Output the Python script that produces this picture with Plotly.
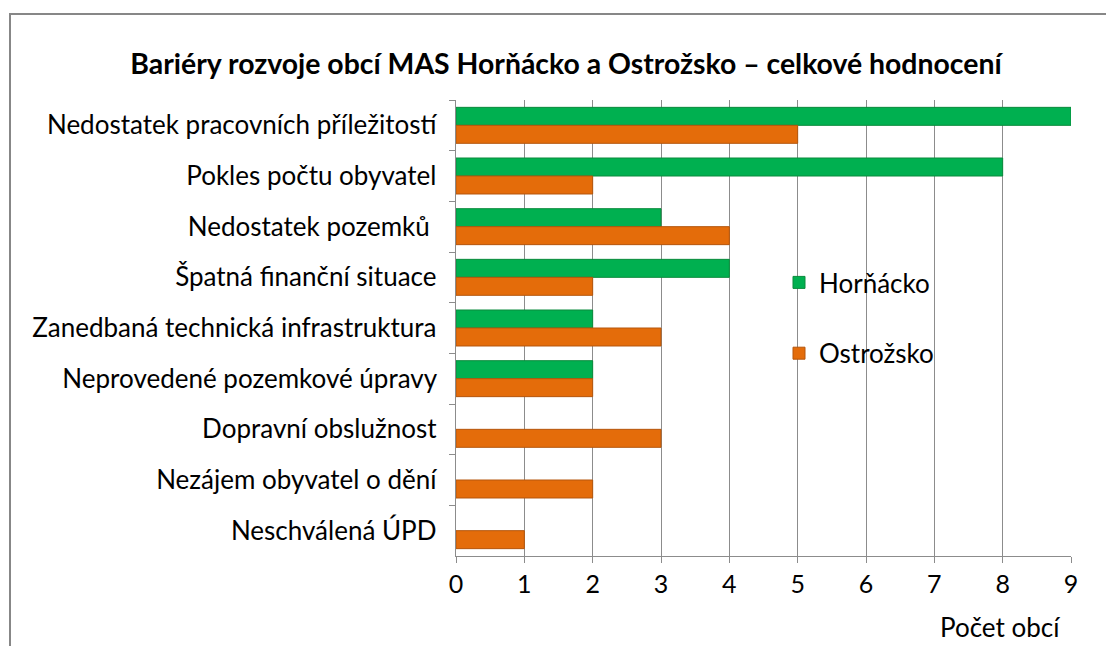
import plotly.graph_objects as go

categories = [
    "Nedostatek pracovních příležitostí",
    "Pokles počtu obyvatel",
    "Nedostatek pozemků ",
    "Špatná finanční situace",
    "Zanedbaná technická infrastruktura",
    "Neprovedené pozemkové úpravy",
    "Dopravní obslužnost",
    "Nezájem obyvatel o dění",
    "Neschválená ÚPD",
]
hornacko = [9, 8, 3, 4, 2, 2, 0, 0, 0]
ostrozsko = [5, 2, 4, 2, 3, 2, 3, 2, 1]
x_ticks = [0, 1, 2, 3, 4, 5, 6, 7, 8, 9]

FONT = "Lato"
OFF = 8  # page body margin offset
W, H = 1114 - OFF, 646 - OFF
L, R, T, B = 456 - OFF, 1071 - OFF, 100 - OFF, 556 - OFF


def px_x(p):
    return (p - OFF - L) / (R - L)


def px_y(p):
    return (B - (p - OFF)) / (B - T)


def nz(vals):
    return [v if v else None for v in vals]


fig = go.Figure()
fig.add_trace(go.Bar(
    y=categories, x=nz(hornacko), orientation="h", name="Horňácko",
    legendgroup="h",
    marker=dict(color="#00B050", line=dict(color="#0A8B3C", width=1)),
))
fig.add_trace(go.Bar(
    y=categories, x=nz(ostrozsko), orientation="h", name="Ostrožsko",
    legendgroup="o",
    marker=dict(color="#E46C0A", line=dict(color="#B5560C", width=1)),
))

fig.update_layout(
    width=W, height=H,
    margin=dict(l=L, r=W - R, t=T, b=H - B),
    paper_bgcolor="white", plot_bgcolor="white",
    barmode="group", bargap=0.29, bargroupgap=0,
    font=dict(family=FONT, size=26, color="#000000"),
    title=dict(
        text="<b>Bariéry rozvoje obcí MAS Horňácko a Ostrožsko – celkové hodnocení</b>",
        x=(566 - OFF) / W, xanchor="center", y=1 - (64 - OFF) / H, yanchor="middle",
        font=dict(family=FONT, size=28.4, color="#000000"),
    ),
    legend=dict(
        x=px_x(779), xanchor="left", y=px_y(259), yanchor="top",
        traceorder="grouped", tracegroupgap=34,
        font=dict(family=FONT, size=26, color="#000000"),
        bgcolor="rgba(0,0,0,0)", itemwidth=30,
    ),
    xaxis=dict(
        range=[0, 9], tickvals=x_ticks, showgrid=True,
        gridcolor="#8C8C8C", gridwidth=1,
        showline=True, linecolor="#8C8C8C", linewidth=1,
        ticks="outside", ticklen=6, tickcolor="#8C8C8C",
        tickfont=dict(family=FONT, size=25), zeroline=False,
    ),
    yaxis=dict(
        autorange="reversed", showline=True, linecolor="#8C8C8C", linewidth=1,
        ticks="outside", ticklen=6, tickcolor="#8C8C8C", tickson="boundaries",
        showgrid=False, ticksuffix="  ",
        tickfont=dict(family=FONT, size=26),
    ),
    annotations=[dict(
        text="Počet obcí", xref="paper", yref="paper",
        x=px_x(1062), xanchor="right", y=px_y(627), yanchor="middle",
        showarrow=False, font=dict(family=FONT, size=26, color="#000000"),
    )],
    shapes=[dict(
        type="rect", xref="paper", yref="paper",
        x0=px_x(10), x1=px_x(1140), y0=px_y(14), y1=px_y(670),
        line=dict(color="#878787", width=2), fillcolor="rgba(0,0,0,0)",
        layer="below",
    )],
)

fig.write_html("out.html")
